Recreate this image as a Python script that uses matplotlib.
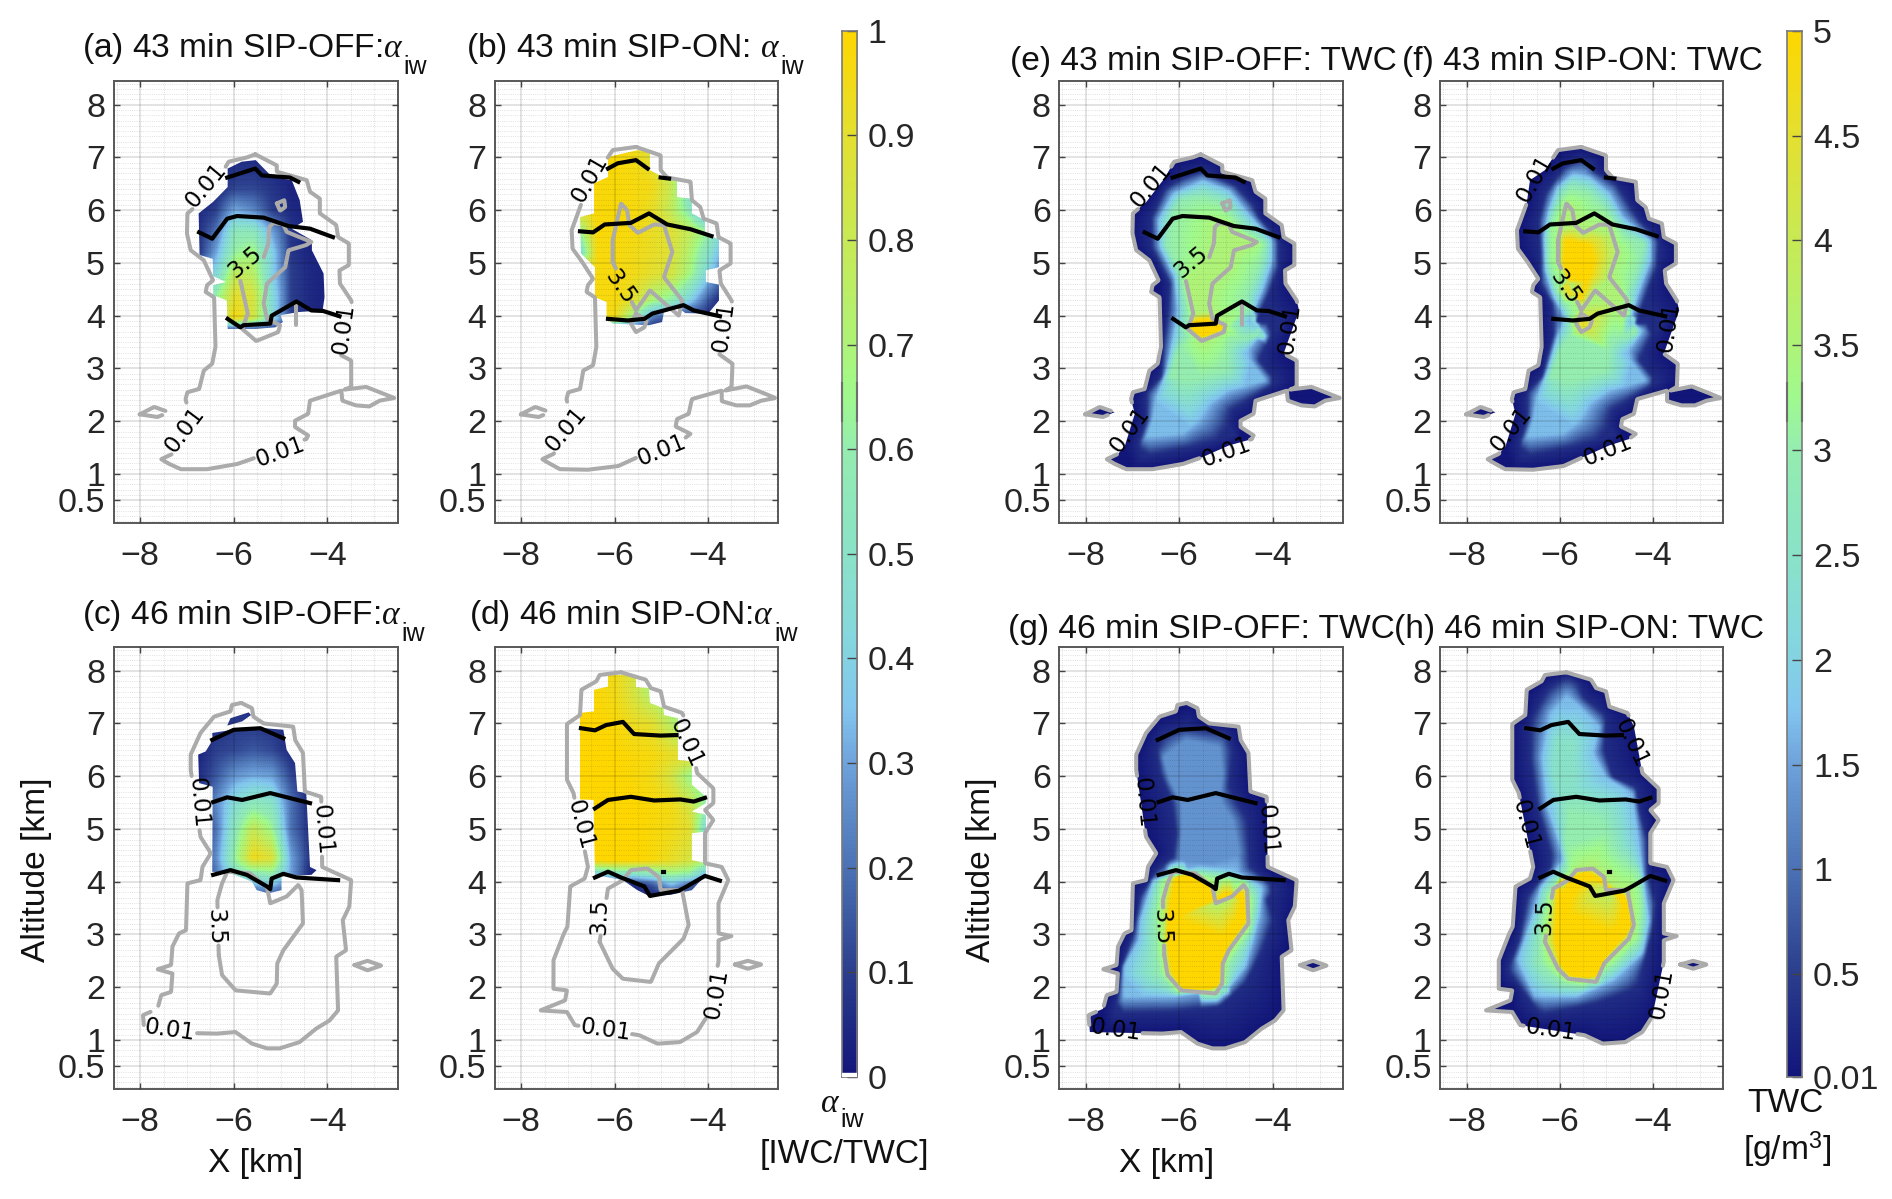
#!/usr/bin/env python3

import numpy as np
import matplotlib
matplotlib.use('Agg')
import matplotlib.pyplot as plt
from matplotlib.colors import LinearSegmentedColormap
from matplotlib.path import Path
import matplotlib.tri as mtri

W, H = 1892, 1199

plt.rcParams['font.family'] = ['Liberation Sans', 'DejaVu Sans']
plt.rcParams['mathtext.fontset'] = 'custom'
plt.rcParams['mathtext.rm'] = 'Liberation Sans'
plt.rcParams['mathtext.it'] = 'Liberation Serif:italic'

# 0.01 g/m3 contour (km)
OUT_43_OFF = [(-5.54,7.06),(-5.08,6.85),(-5.08,6.73),(-4.44,6.57),(-4.37,6.35),(-4.16,6.22),(-4.16,5.94),(-3.81,5.72),
    (-3.77,5.49),(-3.54,5.37),(-3.54,4.96),(-3.74,4.86),(-3.73,4.61),(-3.49,4.29),(-3.44,4.1),(-3.77,3.28),(-3.49,3.15),
    (-3.49,2.65),(-3.63,2.6),(-3.17,2.65),(-2.88,2.55),(-2.57,2.44),(-2.88,2.39),(-3.1,2.28),(-3.39,2.3),(-3.68,2.39),
    (-3.7,2.58),(-4.37,2.39),(-4.41,2.14),(-4.69,2.01),(-4.69,1.89),(-4.41,1.73),(-4.45,1.66),(-4.94,1.54),(-5.5,1.32),
    (-5.92,1.19),(-6.57,1.09),(-7.13,1.09),(-7.38,1.19),(-7.55,1.28),(-7.31,1.38),(-7.17,1.51),(-6.95,2.14),(-7.03,2.42),
    (-6.99,2.55),(-6.74,2.61),(-6.64,2.96),(-6.46,3.09),(-6.39,3.41),(-6.42,4.35),(-6.6,4.45),(-6.57,4.58),(-6.44,4.67),
    (-6.64,5.05),(-6.92,5.24),(-7.0,5.56),(-6.99,5.94),(-6.71,6.15),(-6.32,6.6),(-6.11,6.92),(-5.72,7.0)]
ISLE_43 = [(-8.01,2.13),(-7.7,2.27),(-7.38,2.17),(-7.63,2.08)]
OUT_43_ON = [(-5.54,7.2),(-5.01,7.04),(-5.01,6.76),(-4.87,6.62),(-4.37,6.54),(-4.34,6.19),(-4.16,6.06),(-4.09,5.84),
    (-3.81,5.75),(-3.77,5.49),(-3.51,5.37),(-3.51,4.99),(-3.75,4.86),(-3.72,4.61),(-3.49,4.29),(-3.44,4.1),(-3.77,3.28),
    (-3.47,3.09),(-3.49,2.65),(-3.63,2.58),(-3.17,2.66),(-2.85,2.55),(-2.55,2.44),(-2.85,2.39),(-3.1,2.3),(-3.39,2.3),
    (-3.7,2.38),(-3.7,2.58),(-4.34,2.42),(-4.41,2.14),(-4.66,2.04),(-4.69,1.9),(-4.37,1.76),(-4.52,1.66),(-4.94,1.54),
    (-5.5,1.32),(-5.92,1.15),(-6.57,1.08),(-7.17,1.09),(-7.38,1.19),(-7.55,1.28),(-7.31,1.38),(-7.17,1.51),(-6.95,2.14),
    (-7.03,2.42),(-6.99,2.55),(-6.74,2.61),(-6.67,2.96),(-6.46,3.06),(-6.39,3.41),(-6.42,4.35),(-6.6,4.45),(-6.57,4.58),
    (-6.46,4.7),(-6.67,4.99),(-6.9,5.27),(-6.92,5.62),(-6.71,6.13),(-6.64,6.57),(-6.32,6.76),(-6.04,7.14)]
OUT_46_OFF = [(-5.84,7.39),(-5.61,7.29),(-5.58,7.13),(-5.36,7.0),(-4.73,6.94),(-4.69,6.69),(-4.52,6.44),(-4.48,5.71),
    (-4.13,5.61),(-4.11,4.28),(-3.49,4.03),(-3.53,3.53),(-3.67,3.27),(-3.6,2.7),(-3.81,2.58),(-3.77,1.56),(-3.95,1.37),
    (-4.23,1.22),(-4.59,0.96),(-5.01,0.84),(-5.29,0.84),(-5.61,0.93),(-5.96,1.15),(-6.35,1.12),(-7.91,1.15),(-7.94,1.47),
    (-7.63,1.59),(-7.55,1.85),(-7.34,1.91),(-7.31,2.26),(-7.63,2.34),(-7.34,2.42),(-7.31,2.77),(-7.17,3.02),(-7.02,3.08),
    (-6.99,3.97),(-6.71,4.03),(-6.67,4.28),(-6.49,4.54),(-6.71,4.85),(-6.92,6.12),(-6.92,6.41),(-6.71,6.82),(-6.42,7.13),
    (-6.07,7.23),(-6.04,7.35)]
ISLE_46_OFF = [(-3.42,2.42),(-3.14,2.5),(-2.85,2.41),(-3.14,2.32)]
OUT_46_ON = [(-5.86,7.97),(-5.33,7.83),(-5.22,7.67),(-5.01,7.61),(-4.94,7.32),(-4.55,7.2),(-4.41,6.94),(-4.23,6.06),
    (-3.88,5.77),(-3.88,5.49),(-4.06,5.36),(-3.88,5.17),(-4.06,4.92),(-4.06,4.35),(-3.7,4.28),(-3.56,4.03),(-3.77,3.59),
    (-3.77,3.02),(-3.49,2.97),(-3.77,2.89),(-3.77,2.48),(-4.02,1.44),(-4.23,1.15),(-4.59,0.96),(-5.08,0.93),(-5.47,1.09),
    (-6.85,1.28),(-7.02,1.53),(-7.59,1.56),(-7.06,1.75),(-7.02,1.94),(-7.31,1.97),(-7.31,2.51),(-7.1,2.99),(-7.01,3.15),
    (-6.95,3.91),(-6.64,4.06),(-6.57,4.28),(-6.88,5.68),(-7.02,5.93),(-7.02,6.99),(-6.74,7.16),(-6.71,7.64),(-6.39,7.8),
    (-6.32,7.92)]
ISLE_46_ON = [(-3.42,2.43),(-3.14,2.5),(-2.85,2.43),(-3.14,2.35)]

# 3.5 g/m3 contours
C35_43_OFF = [(-5.38,5.05),(-5.26,5.37),(-5.24,5.68),(-5.15,5.76),(-4.94,5.73),(-4.87,5.59),(-4.34,5.4),(-4.45,5.34),
    (-4.83,5.24),(-4.9,4.92),(-5.29,4.61),(-5.36,4.23),(-5.29,3.94),(-5.01,3.82),(-5.05,3.69),(-5.52,3.52),(-5.82,3.75),
    (-5.7,4.04),(-5.86,4.67)]
C35_43_OFF_B = [(-5.08,6.13),(-4.92,6.19),(-4.9,6.06),(-5.01,5.99)]
C35_43_OFF_C = [(-4.66,4.23),(-4.66,3.82)]
C35_43_ON = [(-6.04,5.02),(-6.04,5.43),(-5.86,6.13),(-5.73,6.0),(-5.68,5.72),(-5.5,5.57),(-5.15,5.73),(-4.94,5.72),
    (-4.76,5.21),(-4.94,4.73),(-4.55,4.29),(-4.62,4.0),(-5.24,4.48),(-5.54,4.1)]
C35_43_ON_B = [(-5.54,4.04),(-5.31,3.91),(-5.36,3.78),(-5.54,3.69),(-5.65,3.85)]
C35_46_OFF = [(-6.32,2.61),(-6.25,2.23),(-5.96,1.94),(-5.22,1.88),(-5.08,2.07),(-5.07,2.45),(-4.94,2.7),(-4.52,3.21),
    (-4.55,3.84),(-4.62,3.94),(-4.87,3.72),(-5.22,3.59),(-5.29,3.9),(-5.65,4.16),(-6.14,4.19),(-6.25,3.97),(-6.35,3.65)]
C35_46_ON = [(-6.32,2.86),(-6.04,2.35),(-5.82,2.16),(-5.22,2.1),(-5.05,2.45),(-4.52,2.92),(-4.41,3.18),(-4.55,3.84),
    (-5.01,3.84),(-5.05,4.09),(-5.29,4.25),(-5.65,4.22),(-5.82,4.03),(-6.14,3.87)]

# black isotherm lines
BLK_43_OFF = [
    [(-6.14,6.62),(-5.54,6.79),(-5.4,6.66),(-4.8,6.62),(-4.62,6.54)],
    [(-6.74,5.58),(-6.46,5.46),(-6.14,5.84),(-5.93,5.89),(-5.36,5.86),(-4.83,5.7),(-4.37,5.65),(-3.88,5.49)],
    [(-6.13,3.94),(-5.86,3.78),(-5.79,3.82),(-5.22,3.85),(-5.19,4.0),(-4.66,4.27),(-4.34,4.1),(-4.09,4.09),(-3.74,3.99)]]
BLK_43_ON = [
    [(-6.14,6.79),(-5.93,6.89),(-5.54,6.95),(-5.29,6.79)],
    [(-5.01,6.62),(-4.83,6.6)],
    [(-6.74,5.6),(-6.46,5.58),(-6.21,5.73),(-5.65,5.76),(-5.26,5.94),(-4.87,5.73),(-4.37,5.64),(-3.92,5.51)],
    [(-6.14,3.94),(-5.72,3.91),(-5.36,3.94),(-5.19,4.04),(-4.52,4.2),(-4.3,4.1),(-3.74,3.99)]]
BLK_46_OFF = [
    [(-6.46,6.69),(-6.0,6.88),(-5.43,6.91),(-4.94,6.72)],
    [(-6.44,5.51),(-6.14,5.6),(-5.82,5.55),(-5.22,5.68),(-4.37,5.49)],
    [(-6.44,4.13),(-6.07,4.22),(-5.72,4.13),(-5.29,3.91),(-5.22,3.86),(-5.19,4.06),(-4.94,4.15),(-4.66,4.08),(-3.77,4.03)]]
BLK_46_ON = [
    [(-6.72,6.91),(-6.42,6.87),(-6.18,6.97),(-5.82,7.03),(-5.58,6.8),(-5.01,6.77),(-4.67,6.78)],
    [(-6.42,5.39),(-6.14,5.55),(-5.65,5.61),(-5.15,5.54),(-4.59,5.56),(-4.3,5.52),(-4.06,5.59)],
    [(-6.42,4.08),(-6.14,4.19),(-5.86,4.08),(-5.36,3.91),(-5.24,3.73),(-4.62,3.83),(-4.45,3.91),(-4.06,4.11),(-3.74,4.02)],
    [(-4.95,4.18),(-4.93,4.18)]]

# contour labels: text, x, z, rotation
LAB_43_OFF = [('0.01',-6.6,6.47,50),('0.01',-3.65,3.76,82),('0.01',-7.05,1.83,53),('0.01',-5.0,1.41,20),('3.5',-5.75,5.02,40)]
LAB_43_ON = [('0.01',-6.53,6.6,60),('0.01',-3.67,3.78,82),('0.01',-7.04,1.85,50),('0.01',-4.98,1.44,22),('3.5',-5.89,4.54,-55)]
LAB_46_OFF = [('0.01',-6.76,5.49,-85),('0.01',-4.11,4.99,-85),('0.01',-7.36,1.18,-8),('3.5',-6.39,3.15,-88)]
LAB_46_ON = [('0.01',-4.47,6.63,-65),('0.01',-6.74,5.08,-75),('0.01',-6.19,1.18,-8),('0.01',-3.81,1.88,80),('3.5',-6.33,3.34,88)]

# TWC levels, inner edges of the colour bands
E_NAVY = [(-5.5,6.76),(-4.8,6.47),(-4.44,6.13),(-4.3,5.87),(-3.88,5.43),(-3.88,4.92),(-4.09,4.42),(-4.37,3.88),(-3.81,3.85),
    (-4.02,3.66),(-4.3,3.15),(-3.92,2.74),(-4.37,2.49),(-4.9,2.2),(-4.97,1.89),(-4.83,1.73),(-5.72,1.51),(-6.78,1.32),
    (-6.88,1.57),(-6.71,2.01),(-6.71,2.55),(-6.39,2.84),(-6.35,3.47),(-6.25,4.1),(-6.21,4.61),(-6.6,5.3),(-6.6,5.87),
    (-6.32,6.41),(-5.93,6.63)]
E_BLUE = [(-5.5,6.57),(-4.94,6.38),(-4.59,6.0),(-4.02,5.43),(-4.02,5.05),(-4.23,4.48),(-4.51,3.91),(-4.23,3.72),(-4.59,3.28),
    (-4.16,2.77),(-4.94,2.58),(-5.36,2.33),(-5.58,2.01),(-5.93,1.76),(-6.71,1.7),(-6.57,2.08),(-6.5,2.46),(-6.28,2.96),
    (-6.14,3.59),(-6.04,4.1),(-6.11,4.73),(-6.42,5.3),(-6.46,5.81),(-6.14,6.32)]
E_GREEN = [(-5.5,6.25),(-5.08,6.13),(-4.59,5.62),(-4.16,5.37),(-4.3,4.92),(-4.59,4.35),(-4.37,3.85),(-4.23,3.63),(-4.94,3.53),
    (-5.01,2.96),(-5.72,2.77),(-6.21,2.84),(-6.07,3.28),(-5.79,3.66),(-5.86,4.23),(-6.0,4.8),(-6.28,5.37),(-6.14,5.94),(-5.93,6.19)]
E_CORE = [(-5.75,3.85),(-5.22,3.88),(-5.08,3.78),(-5.52,3.63),(-5.75,3.75)]

F_NAVY = [(-5.54,7.0),(-5.33,6.92),(-5.29,6.76),(-4.8,6.51),(-4.52,6.13),(-4.3,5.81),(-3.88,5.43),(-3.92,4.92),(-4.09,4.54),
    (-4.37,3.85),(-3.81,3.88),(-4.02,3.66),(-4.3,3.15),(-3.92,2.74),(-4.37,2.49),(-4.9,2.2),(-4.97,1.89),(-4.83,1.73),
    (-5.72,1.51),(-6.78,1.32),(-6.88,1.57),(-6.71,2.01),(-6.71,2.55),(-6.39,2.84),(-6.14,3.66),(-6.18,4.23),(-6.42,4.61),
    (-6.42,5.18),(-6.46,5.81),(-6.32,6.32),(-5.93,6.82)]
F_BLUE = [(-5.72,6.7),(-5.36,6.63),(-4.94,6.32),(-4.66,5.87),(-4.06,5.43),(-4.06,5.05),(-4.3,4.48),(-4.51,3.91),(-4.23,3.72),
    (-4.59,3.28),(-4.16,2.77),(-4.94,2.58),(-5.36,2.33),(-5.58,2.01),(-5.93,1.76),(-6.71,1.7),(-6.57,2.08),(-6.5,2.46),
    (-6.28,2.96),(-6.07,3.59),(-5.89,3.97),(-6.14,4.35),(-6.32,4.86),(-6.35,5.49),(-6.25,6.0),(-6.07,6.44)]
F_GREEN = [(-5.79,6.44),(-5.36,6.32),(-5.01,6.0),(-4.59,5.49),(-4.2,5.37),(-4.37,4.86),(-4.59,4.35),(-4.37,3.66),(-4.94,3.53),
    (-5.01,2.96),(-5.72,2.77),(-6.21,2.84),(-6.0,3.34),(-5.75,3.66),(-5.82,4.1),(-6.11,4.54),(-6.25,5.05),(-6.25,5.68),(-6.0,6.19)]
F_CORE = [(-5.89,5.43),(-5.43,5.37),(-5.29,5.05),(-5.43,4.61),(-5.58,4.29),(-5.79,4.48),(-5.93,4.99)]
F_CORE_B = [(-5.56,3.88),(-5.48,3.88),(-5.52,3.82)]

G_NAVY = [(-5.86,6.94),(-5.01,6.85),(-4.87,6.5),(-4.94,5.8),(-4.55,5.17),(-4.48,4.28),(-3.95,3.87),(-4.13,3.65),(-3.99,3.27),
    (-4.23,2.7),(-4.59,2.07),(-5.15,1.63),(-6.14,1.53),(-7.38,1.5),(-7.24,2.39),(-6.99,3.02),(-6.85,3.72),(-6.49,4.22),
    (-6.14,4.47),(-6.07,4.92),(-6.18,5.55),(-6.42,6.06),(-6.49,6.5),(-6.35,6.82)]
G_UPPER = [(-5.86,6.69),(-5.15,6.56),(-5.08,6.06),(-5.15,5.55),(-4.87,5.17),(-4.73,4.54),(-5.29,4.35),(-6.0,4.41),(-5.96,4.92),
    (-5.96,5.49),(-6.21,5.93),(-6.35,6.37)]
G_BLUE = [(-6.57,4.03),(-5.58,4.28),(-4.87,4.22),(-4.23,3.91),(-4.3,3.34),(-4.59,2.39),(-4.94,2.0),(-6.14,1.82),(-7.2,1.82),
    (-7.2,2.39),(-6.88,2.89),(-6.85,3.27),(-6.64,3.84)]
G_GREEN = [(-6.42,4.03),(-6.0,4.22),(-4.59,4.03),(-4.41,3.65),(-4.48,3.08),(-4.94,2.45),(-5.01,1.94),(-6.07,1.88),(-6.42,2.26),
    (-6.49,2.7),(-6.53,3.34)]
G_CORE = [(-6.14,2.32),(-5.93,1.97),(-5.22,1.94),(-5.15,2.39),(-5.01,2.77),(-4.62,3.27),(-4.66,3.78),(-5.29,3.65),(-5.4,3.9),
    (-5.65,4.09),(-6.07,4.09),(-6.14,3.65),(-6.25,3.02)]

H_NAVY = [(-5.86,7.92),(-5.61,7.77),(-5.5,7.51),(-5.01,7.16),(-5.05,6.5),(-4.87,5.99),(-4.37,5.8),(-4.3,5.36),(-4.13,4.79),
    (-4.13,4.16),(-3.95,3.59),(-4.02,3.08),(-4.34,1.97),(-5.22,1.69),(-6.42,1.47),(-7.13,2.32),(-6.88,2.89),(-6.71,3.72),
    (-6.21,4.28),(-6.21,4.54),(-6.49,5.42),(-6.64,6.31),(-6.64,7.07),(-6.28,7.64)]
H_BLUE = [(-5.86,7.51),(-5.65,7.39),(-5.15,6.94),(-5.29,6.44),(-5.01,5.99),(-4.45,5.68),(-4.34,4.98),(-4.27,4.47),(-4.16,3.65),
    (-4.09,3.27),(-4.23,2.64),(-4.87,2.13),(-5.65,1.82),(-6.55,1.82),(-6.92,2.51),(-6.6,3.34),(-6.42,3.91),(-5.93,4.41),
    (-6.04,4.79),(-6.28,5.42),(-6.39,6.37),(-6.21,7.2)]
H_GREEN = [(-5.79,5.3),(-5.15,5.17),(-4.8,4.54),(-4.3,4.16),(-4.23,3.53),(-4.3,2.89),(-4.8,2.45),(-5.5,2.01),(-5.93,2.07),
    (-6.42,2.45),(-6.42,3.15),(-6.28,3.78),(-5.86,4.22),(-5.89,4.79)]
H_UPPER = [(-6.07,6.69),(-5.72,6.63),(-5.72,5.68),(-5.96,5.55),(-6.14,6.06)]
H_CORE = [(-6.04,3.97),(-5.44,4.16),(-5.15,4.03),(-4.59,3.65),(-4.52,3.15),(-5.05,2.58),(-5.22,2.2),(-5.79,2.23),(-6.0,2.51),(-6.04,3.02)]

# alpha_iw masks
MASK_A = [(-6.13,6.79),(-5.83,6.92),(-5.53,6.95),(-5.18,6.63),(-4.76,6.57),(-4.59,6.19),(-4.52,5.78),(-4.76,5.65),(-4.33,5.43),
    (-4.33,5.24),(-4.08,4.8),(-4.06,4.35),(-4.1,4.1),(-4.61,4.07),(-5.0,4.01),(-4.95,3.88),(-5.11,3.78),(-5.53,3.75),(-6.13,3.75),
    (-6.15,4.29),(-6.44,4.39),(-6.44,4.58),(-6.17,4.64),(-6.44,4.75),(-6.45,5.08),(-6.73,5.15),(-6.75,5.94),(-6.44,6.16),(-6.13,6.44)]
MASK_B = [(-6.14,7.01),(-5.5,7.14),(-5.24,7.11),(-5.24,6.76),(-5.01,6.65),(-4.66,6.57),(-4.66,6.25),(-4.34,6.22),(-4.34,5.94),
    (-4.06,5.81),(-4.06,5.51),(-3.76,5.46),(-3.76,4.92),(-4.04,4.86),(-4.04,4.64),(-3.76,4.59),(-3.76,4.29),(-3.99,4.04),
    (-4.48,4.05),(-4.66,4.16),(-4.94,4.07),(-4.98,3.88),(-5.26,3.82),(-6.04,3.85),(-6.17,3.94),(-6.17,4.26),(-6.42,4.35),
    (-6.42,4.92),(-6.72,5.18),(-6.74,5.87),(-6.44,5.94),(-6.44,6.51),(-6.14,6.63)]
MASK_C = [(-6.46,6.82),(-5.82,6.91),(-5.33,6.91),(-4.94,6.88),(-4.87,6.5),(-4.69,6.25),(-4.64,5.71),(-4.45,5.68),(-4.37,4.28),
    (-4.23,4.22),(-4.34,4.13),(-4.98,4.1),(-4.98,3.84),(-5.26,3.78),(-5.51,3.84),(-5.61,4.0),(-6.07,4.16),(-6.46,4.19),(-6.45,5.8),
    (-6.74,5.87),(-6.76,6.41),(-6.6,6.47),(-6.45,6.69)]
MASK_C_B = [(-6.14,6.96),(-6.07,7.1),(-5.68,7.21),(-5.63,7.16),(-5.82,7.04)]
MASK_D = [(-6.14,7.92),(-5.54,7.92),(-5.54,7.69),(-5.26,7.67),(-5.24,7.39),(-4.95,7.29),(-4.94,7.16),(-4.64,7.1),(-4.64,6.31),
    (-4.34,6.28),(-4.34,5.84),(-4.04,5.61),(-4.04,5.49),(-4.34,5.33),(-4.04,5.27),(-4.04,4.95),(-4.34,4.92),(-4.34,4.41),
    (-4.04,4.35),(-4.04,4.13),(-4.34,3.84),(-4.8,3.75),(-5.26,3.73),(-5.51,3.84),(-5.82,4.03),(-6.42,4.13),(-6.45,5.55),
    (-6.74,5.56),(-6.74,7.2),(-6.44,7.23),(-6.44,7.64),(-6.14,7.7)]

# alpha_iw values on coarse x/z tables
XA_A = [-6.8,-6.4,-6.0,-5.6,-5.2,-4.8,-4.4,-4.0]
ZA_A = [3.6,3.72,3.95,4.4,4.8,5.2,5.6,6.0,6.4,7.0]
VA_A = [[.05,.05,.1,.1,.1,.05,.05,.05],
        [.02,.02,.05,.05,.05,.03,.02,.02],
        [.5,.7,.97,.85,.45,.1,.05,.03],
        [.5,.6,.9,.85,.45,.1,.05,.03],
        [.3,.42,.78,.75,.4,.1,.05,.03],
        [.05,.3,.62,.68,.4,.08,.04,.03],
        [.05,.2,.55,.55,.3,.08,.03,.03],
        [.05,.1,.32,.25,.1,.05,.03,.03],
        [.03,.05,.12,.12,.08,.04,.03,.03],
        [.02,.03,.05,.05,.04,.03,.02,.02]]
XA_B = [-6.8,-6.4,-6.0,-5.6,-5.2,-4.8,-4.4,-4.0,-3.7]
ZA_B = [3.75,3.95,4.3,4.8,5.2,5.6,6.0,6.5,7.2]
VA_B = [[.05,.05,.05,.05,.05,.05,.05,.05,.05],
        [.9,.95,.95,.6,.2,.1,.05,.05,.03],
        [.95,.97,.97,.9,.7,.6,.4,.15,.03],
        [.95,.97,.97,.95,.9,.85,.68,.4,.2],
        [.35,.97,.97,.95,.92,.88,.72,.5,.3],
        [.6,.98,.98,.97,.92,.88,.78,.62,.4],
        [.9,.98,.98,.97,.92,.78,.55,.15,.1],
        [.9,.98,.98,.97,.95,.8,.45,.2,.1],
        [.9,.98,.98,.95,.85,.65,.3,.1,.1]]
XA_C = [-6.8,-6.4,-6.0,-5.6,-5.2,-4.8,-4.4,-4.2]
ZA_C = [3.7,4.15,4.45,5.0,5.5,6.0,6.5,7.3]
VA_C = [[.05,.05,.05,.08,.08,.05,.03,.03],
        [.05,.2,.5,.55,.6,.3,.05,.03],
        [.05,.25,.62,.95,.88,.3,.08,.05],
        [.05,.2,.55,.8,.65,.2,.07,.05],
        [.05,.25,.45,.55,.5,.2,.05,.03],
        [.05,.15,.28,.32,.3,.12,.05,.03],
        [.03,.1,.12,.15,.12,.05,.03,.03],
        [.03,.05,.08,.05,.05,.03,.03,.03]]
XA_D = [-6.8,-6.4,-6.0,-5.6,-5.2,-4.8,-4.4,-4.0]
ZA_D = [3.7,3.95,4.15,4.4,5.0,5.4,6.0,6.4,7.0,7.6,8.0]
VA_D = [[.05,.05,.03,.03,.03,.05,.05,.03],
        [.05,.05,.1,.05,.15,.35,.2,.03],
        [.4,.4,.5,.5,.55,.65,.6,.3],
        [1,1,1,1,.98,.92,.85,.7],
        [1,1,1,1,.98,.95,.9,.35],
        [1,1,1,1,.98,.96,.85,.55],
        [1,1,1,.98,.95,.85,.65,.6],
        [1,1,1,.98,.97,.92,.9,.9],
        [1,1,.98,.93,.9,.75,.6,.6],
        [1,.98,.95,.85,.7,.65,.6,.6],
        [1,.98,.95,.85,.7,.65,.6,.6]]

YTICKS = [0.5, 1, 2, 3, 4, 5, 6, 7, 8]
XTICKS = [-8, -6, -4]
ALPHA_TICKS = [0, 0.1, 0.2, 0.3, 0.4, 0.5, 0.6, 0.7, 0.8, 0.9, 1]
TWC_TICKS = [0.01, 0.5, 1, 1.5, 2, 2.5, 3, 3.5, 4, 4.5, 5]
XLIM = (-8.57, -2.56)
YLIM = (0.07, 8.45)
PX_X, PX_Z = 47.2, 52.7   # pixels per km

CMAP = LinearSegmentedColormap.from_list('cb', [
    (0.0, '#12167a'), (0.1, '#2c3f8e'), (0.2, '#4c73b5'), (0.3, '#6fa3dc'), (0.35, '#82c6ef'),
    (0.42, '#85d8de'), (0.5, '#8ae3c8'), (0.6, '#95edb0'), (0.65, '#a0fa8e'), (0.7, '#aef478'),
    (0.8, '#c8ea55'), (0.9, '#e4e030'), (1.0, '#ffd700')])
TXT = '#262626'
GREY = '#ababab'

XG = np.linspace(XLIM[0], XLIM[1], 380)
ZG = np.linspace(YLIM[0], YLIM[1], 560)


def densify(pts, step=0.05, closed=True):
    p = np.array(pts, float)
    if closed:
        p = np.vstack([p, p[:1]])
    seg = np.hypot(*np.diff(p, axis=0).T)
    s = np.r_[0, np.cumsum(seg)]
    t = np.linspace(0, s[-1], max(int(s[-1] / step), 2))
    return np.c_[np.interp(t, s, p[:, 0]), np.interp(t, s, p[:, 1])]


def clip_path(polys):
    return Path.make_compound_path(*[Path(np.vstack([p, p[:1]]), closed=True) for p in polys])


def smooth(g, passes):
    for _ in range(passes):
        g = np.pad(g, 1, mode='edge')
        g = (g[:-2, 1:-1] + g[2:, 1:-1] + g[1:-1, :-2] + g[1:-1, 2:] + g[1:-1, 1:-1]) / 5
    return g


def draw_field(ax, g, polys, vmin, vmax):
    im = ax.imshow(g, extent=(*XLIM, *YLIM), origin='lower', aspect='auto', cmap=CMAP,
                   vmin=vmin, vmax=vmax, interpolation='bilinear', zorder=1)
    im.set_clip_path(clip_path(polys), ax.transData)


def twc_field(levels):
    xs, zs, vs = [], [], []
    for pts, val in levels:
        d = densify(pts)
        xs += list(d[:, 0]); zs += list(d[:, 1]); vs += [val] * len(d)
    arr = np.c_[xs, zs, vs]
    _, idx = np.unique(np.round(arr[:, :2], 3), axis=0, return_index=True)
    arr = arr[idx]
    tr = mtri.Triangulation(arr[:, 0], arr[:, 1])
    # thin triangles along straight edges break the tri finder
    p = np.c_[tr.x, tr.y][tr.triangles]
    area = np.abs(np.cross(p[:, 1] - p[:, 0], p[:, 2] - p[:, 0]))
    tr.set_mask(area < 1e-6)
    xx, zz = np.meshgrid(XG, ZG)
    g = mtri.LinearTriInterpolator(tr, arr[:, 2])(xx, zz).filled(0.01)
    return smooth(g, 5)


def alpha_field(xa, za, va):
    va = np.array(va, float)
    rows = np.array([np.interp(XG, xa, r) for r in va])
    g = np.array([np.interp(ZG, za, rows[:, j]) for j in range(len(XG))]).T
    return smooth(g, 6)


def draw_gapped(ax, pts, labels, color, lw, closed=True):
    d = densify(pts, 0.02, closed)
    for txt, lx, lz, rot in labels:
        r = 27 if txt == '0.01' else 19
        near = np.hypot((d[:, 0] - lx) * PX_X, (d[:, 1] - lz) * PX_Z) < r
        d[near] = np.nan
    ax.plot(d[:, 0], d[:, 1], color=color, lw=lw, zorder=4, solid_capstyle='round')


def panel(left, right, top, bottom):
    ax = fig.add_axes([left / W, 1 - bottom / H, (right - left) / W, (bottom - top) / H])
    ax.set_xlim(XLIM); ax.set_ylim(YLIM)
    ax.set_xticks(XTICKS); ax.set_yticks(YTICKS)
    ax.set_yticklabels(['0.5', '1', '2', '3', '4', '5', '6', '7', '8'])
    ax.set_xticks(np.arange(-8.5, -2.4, 0.5), minor=True)
    ax.set_yticks(np.arange(0.1, 8.45, 0.1), minor=True)
    ax.tick_params(which='minor', length=0)
    ax.tick_params(which='major', direction='in', length=4, width=1, color='#444444', top=True, right=True,
                   labelsize=24.5, labelcolor=TXT)
    ax.tick_params(axis='x', which='major', pad=13)
    ax.tick_params(axis='y', which='major', pad=6)
    ax.set_axisbelow(False)
    ax.grid(which='major', color='black', alpha=0.12, lw=1.3)
    ax.grid(which='minor', color='black', alpha=0.16, lw=0.6, ls=':')
    for s in ax.spines.values():
        s.set_color('#585858'); s.set_linewidth(1.4)
    return ax


def overlay(ax, outs, c35, c35_extra, black, labels):
    for o in outs:
        draw_gapped(ax, o, labels, GREY, 2.9)
    draw_gapped(ax, c35, labels, GREY, 2.9)
    for c, closed in c35_extra:
        draw_gapped(ax, c, labels, GREY, 2.9, closed)
    for b in black:
        ax.plot(*np.array(b).T, color='black', lw=3.0, zorder=5)
    for txt, lx, lz, rot in labels:
        ax.text(lx, lz, txt, rotation=rot, rotation_mode='anchor', ha='center', va='center', fontsize=16.5,
                family='DejaVu Sans', color='black', zorder=6)


def colorbar(left, right, top, bottom, vmin, vmax, ticks, ticklabels):
    cax = fig.add_axes([left / W, 1 - bottom / H, (right - left) / W, (bottom - top) / H])
    cax.imshow(np.linspace(vmin, vmax, 256)[:, None], extent=(0, 1, vmin, vmax), origin='lower', aspect='auto',
               cmap=CMAP, vmin=vmin, vmax=vmax)
    cax.set_xticks([])
    cax.yaxis.tick_right()
    cax.set_yticks(ticks)
    cax.set_yticklabels(ticklabels)
    cax.tick_params(direction='in', length=7, width=1, color='#444444', labelsize=24.5, labelcolor=TXT, pad=8)
    for s in cax.spines.values():
        s.set_color('#7a7a7a'); s.set_linewidth(1.2)
    return cax


def ftext(x, y, s, **kw):
    kw.setdefault('fontsize', 24.1)
    kw.setdefault('color', '#111111')
    return fig.text(x / W, 1 - y / H, s, **kw)


def alpha_title(x, y, s, **kw):
    # alpha from the serif italic, a big "iw" hung below it
    t = ftext(x, y, s + r'$\alpha$', **kw)
    fig.add_artist(plt.Annotation('iw', xy=(1, 0), xycoords=t, xytext=(0, -6), textcoords='offset points',
                                  fontsize=18, color='#111111', va='baseline', ha='left'))
    return t


fig = plt.figure(figsize=(W / 100, H / 100), dpi=100)

TOP1, BOT1, TOP2, BOT2 = 81, 523, 647, 1089

ax = panel(113.5, 397.5, TOP1, BOT1)
draw_field(ax, alpha_field(XA_A, ZA_A, VA_A), [MASK_A], 0, 1)
overlay(ax, [OUT_43_OFF, ISLE_43], C35_43_OFF, [(C35_43_OFF_B, True), (C35_43_OFF_C, False)], BLK_43_OFF, LAB_43_OFF)
alpha_title(82, 57, '(a) 43 min SIP-OFF:')

ax = panel(494.7, 777.7, TOP1, BOT1)
draw_field(ax, alpha_field(XA_B, ZA_B, VA_B), [MASK_B], 0, 1)
overlay(ax, [OUT_43_ON, ISLE_43], C35_43_ON, [(C35_43_ON_B, True)], BLK_43_ON, LAB_43_ON)
alpha_title(466, 57, '(b) 43 min SIP-ON: ')

ax = panel(113.5, 397.5, TOP2, BOT2)
draw_field(ax, alpha_field(XA_C, ZA_C, VA_C), [MASK_C, MASK_C_B], 0, 1)
overlay(ax, [OUT_46_OFF, ISLE_46_OFF], C35_46_OFF, [], BLK_46_OFF, LAB_46_OFF)
alpha_title(82, 624, '(c) 46 min SIP-OFF:')
ftext(256, 1172, 'X [km]', ha='center')
ftext(36, 870, 'Altitude [km]', rotation=90, ha='center', va='center')

ax = panel(494.7, 777.7, TOP2, BOT2)
draw_field(ax, alpha_field(XA_D, ZA_D, VA_D), [MASK_D], 0, 1)
overlay(ax, [OUT_46_ON, ISLE_46_ON], C35_46_ON, [], BLK_46_ON, LAB_46_ON)
alpha_title(469, 624, '(d) 46 min SIP-ON:')

ax = panel(1059, 1343, TOP1, BOT1)
draw_field(ax, twc_field([(OUT_43_OFF, 0.01), (ISLE_43, 0.01), (E_NAVY, 0.3), (E_BLUE, 1.7), (E_GREEN, 3.0), (C35_43_OFF, 3.5),
                          (E_CORE, 5.6)]), [OUT_43_OFF, ISLE_43], 0.01, 5)
overlay(ax, [OUT_43_OFF, ISLE_43], C35_43_OFF, [(C35_43_OFF_B, True), (C35_43_OFF_C, False)], BLK_43_OFF, LAB_43_OFF)
ftext(1010, 70, '(e) 43 min SIP-OFF: TWC')

ax = panel(1440, 1723, TOP1, BOT1)
draw_field(ax, twc_field([(OUT_43_ON, 0.01), (ISLE_43, 0.01), (F_NAVY, 0.3), (F_BLUE, 1.7), (F_GREEN, 3.0), (C35_43_ON, 3.5),
                          (F_CORE, 5), (F_CORE_B, 4.6)]), [OUT_43_ON, ISLE_43], 0.01, 5)
overlay(ax, [OUT_43_ON, ISLE_43], C35_43_ON, [(C35_43_ON_B, True)], BLK_43_ON, LAB_43_ON)
ftext(1402, 70, '(f) 43 min SIP-ON: TWC')

ax = panel(1059, 1343, TOP2, BOT2)
draw_field(ax, twc_field([(OUT_46_OFF, 0.01), (ISLE_46_OFF, 0.01), (G_NAVY, 0.3), (G_UPPER, 1.35), (G_BLUE, 1.7), (G_GREEN, 3.0),
                          (C35_46_OFF, 3.6), (G_CORE, 5.4)]), [OUT_46_OFF, ISLE_46_OFF], 0.01, 5)
overlay(ax, [OUT_46_OFF, ISLE_46_OFF], C35_46_OFF, [], BLK_46_OFF, LAB_46_OFF)
ftext(1008, 638, '(g) 46 min SIP-OFF: TWC')
ftext(1167, 1172, 'X [km]', ha='center')
ftext(981, 870, 'Altitude [km]', rotation=90, ha='center', va='center')

ax = panel(1440, 1723, TOP2, BOT2)
draw_field(ax, twc_field([(OUT_46_ON, 0.01), (ISLE_46_ON, 0.01), (H_NAVY, 0.3), (H_BLUE, 1.7), (H_UPPER, 2.5), (H_GREEN, 3.0),
                          (C35_46_ON, 3.6), (H_CORE, 5.4)]), [OUT_46_ON, ISLE_46_ON], 0.01, 5)
overlay(ax, [OUT_46_ON, ISLE_46_ON], C35_46_ON, [], BLK_46_ON, LAB_46_ON)
ftext(1394, 638, '(h) 46 min SIP-ON: TWC')

cax = colorbar(841.5, 856.7, 30.7, 1077, 0, 1, ALPHA_TICKS, ['0', '0.1', '0.2', '0.3', '0.4', '0.5', '0.6', '0.7', '0.8', '0.9', '1'])
cax.axhspan(0, 0.004, color='white', zorder=3)
cax.plot([0, 0], [0.627, 0.663], color='#333333', lw=1.5, clip_on=False)
cax.plot([1, 1], [0.627, 0.663], color='#333333', lw=1.5, clip_on=False)
alpha_title(820, 1112, '')
ftext(844, 1155, '[IWC/TWC]', ha='center', va='center')

cax = colorbar(1787, 1802, 30.7, 1077, 0.01, 5, TWC_TICKS, ['0.01', '0.5', '1', '1.5', '2', '2.5', '3', '3.5', '4', '4.5', '5'])
cax.plot([0, 0], [3.14, 3.32], color='#333333', lw=1.5, clip_on=False)
cax.plot([1, 1], [3.14, 3.32], color='#333333', lw=1.5, clip_on=False)
ftext(1785, 1103, 'TWC', ha='center', va='center')
ftext(1787, 1150, '[g/m$^{3}$]', ha='center', va='center')

plt.savefig('out.png', dpi=100)
print('saved out.png')
